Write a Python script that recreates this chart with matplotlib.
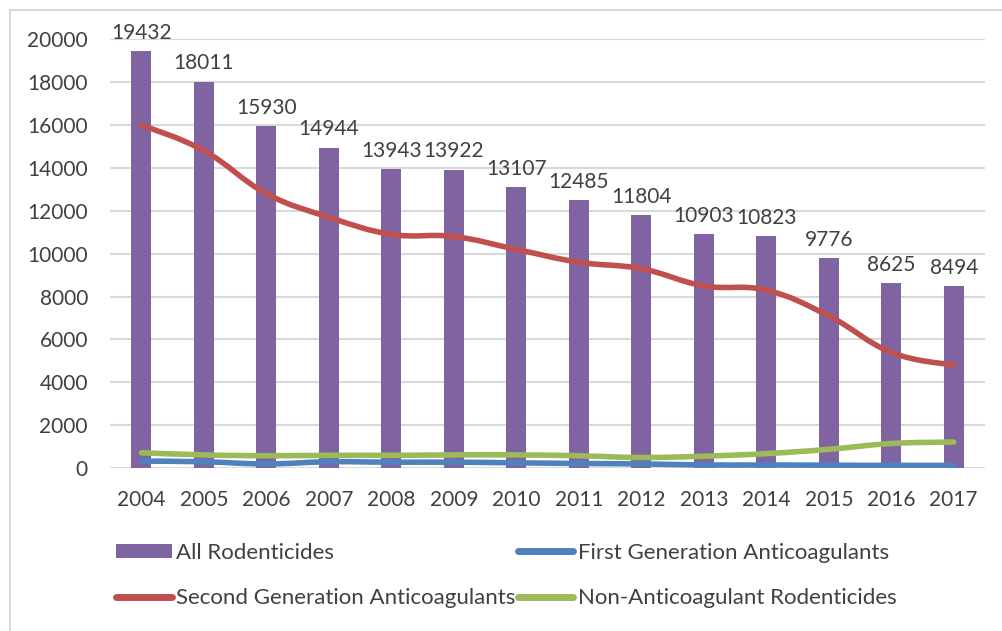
import matplotlib
matplotlib.use("Agg")
import matplotlib.pyplot as plt
from matplotlib.path import Path
from matplotlib.patches import PathPatch, Rectangle
from matplotlib.lines import Line2D
import numpy as np

plt.rcParams['font.family'] = ['Lato', 'DejaVu Sans']

# data
years = ['2004', '2005', '2006', '2007', '2008', '2009', '2010',
         '2011', '2012', '2013', '2014', '2015', '2016', '2017']
all_rodenticides = [19432, 18011, 15930, 14944, 13943, 13922, 13107,
                    12485, 11804, 10903, 10823, 9776, 8625, 8494]
first_gen = [330, 300, 200, 300, 280, 280, 250, 220, 200, 150, 150, 140, 130, 130]
second_gen = [16000, 14800, 12800, 11700, 10900, 10800, 10200,
              9600, 9300, 8500, 8300, 7100, 5400, 4800]
non_anticoag = [720, 620, 580, 600, 600, 620, 620, 580, 500, 560, 680, 880, 1150, 1220]

purple = '#8064A2'
red = '#C0504D'
blue = '#4F81BD'
green = '#9BBB59'
text_col = '#404040'


def smooth_path(x, y, t=0.2):
    # Excel-like smoothed line: cubic bezier segments through the data points
    x = np.asarray(x, float)
    y = np.asarray(y, float)
    n = len(x)
    verts = [(x[0], y[0])]
    codes = [Path.MOVETO]
    for i in range(n - 1):
        x0, y0 = (x[i - 1], y[i - 1]) if i > 0 else (x[i], y[i])
        x3, y3 = (x[i + 2], y[i + 2]) if i + 2 < n else (x[i + 1], y[i + 1])
        c1 = (x[i] + t * (x[i + 1] - x0), y[i] + t * (y[i + 1] - y0))
        c2 = (x[i + 1] - t * (x3 - x[i]), y[i + 1] - t * (y3 - y[i]))
        verts += [c1, c2, (x[i + 1], y[i + 1])]
        codes += [Path.CURVE4] * 3
    return Path(verts, codes)


fig = plt.figure(figsize=(10.02, 6.31), dpi=100)
ax = fig.add_axes([0.11, 0.258, 0.873, 0.680])

xs = np.arange(len(years))
ax.bar(xs, all_rodenticides, width=0.32, color=purple, zorder=2)

for v, c in [(first_gen, blue), (second_gen, red), (non_anticoag, green)]:
    ax.add_patch(PathPatch(smooth_path(xs, v), facecolor='none', edgecolor=c,
                           lw=4, capstyle='round', joinstyle='round', zorder=3))

for xi, v in zip(xs, all_rodenticides):
    ax.annotate(str(v), (xi, v), xytext=(0, 6), textcoords='offset points',
                ha='center', va='bottom', fontsize=15, color=text_col)

ax.set_xlim(-0.5, len(years) - 0.5)
ax.set_ylim(0, 20000)
ax.set_yticks(range(0, 20001, 2000))
ax.set_xticks(xs)
ax.set_xticklabels(years)
ax.tick_params(length=0, labelsize=15, labelcolor=text_col)
ax.tick_params(axis='x', pad=16)
ax.tick_params(axis='y', pad=16)
ax.grid(axis='y', color='#D9D9D9', lw=1.5, zorder=0)
for s in ax.spines.values():
    s.set_visible(False)

handles = [
    Rectangle((0, 0), 1, 1, facecolor=purple),
    Line2D([], [], color=red, lw=5, solid_capstyle='round'),
    Line2D([], [], color=blue, lw=5, solid_capstyle='round'),
    Line2D([], [], color=green, lw=5, solid_capstyle='round'),
]
labels = ['All Rodenticides', 'Second Generation Anticoagulants',
          'First Generation Anticoagulants', 'Non-Anticoagulant Rodenticides']
fig.legend(handles, labels, ncol=2, loc='upper left', bbox_to_anchor=(0.116, 0.14),
           frameon=False, fontsize=16, labelcolor=text_col, handlelength=2.5,
           handleheight=0.6, handletextpad=0.2, columnspacing=0.1, labelspacing=1.15,
           borderaxespad=0, borderpad=0)

# partial outer frame (top and left) as in the cropped screenshot
fig.add_artist(Line2D([0.01, 1.0], [1 - 10 / 631, 1 - 10 / 631], color='#D9D9D9', lw=1.5))
fig.add_artist(Line2D([0.01, 0.01], [0.0, 1 - 10 / 631], color='#D9D9D9', lw=1.5))

fig.savefig('out.png', dpi=100, facecolor='white')
